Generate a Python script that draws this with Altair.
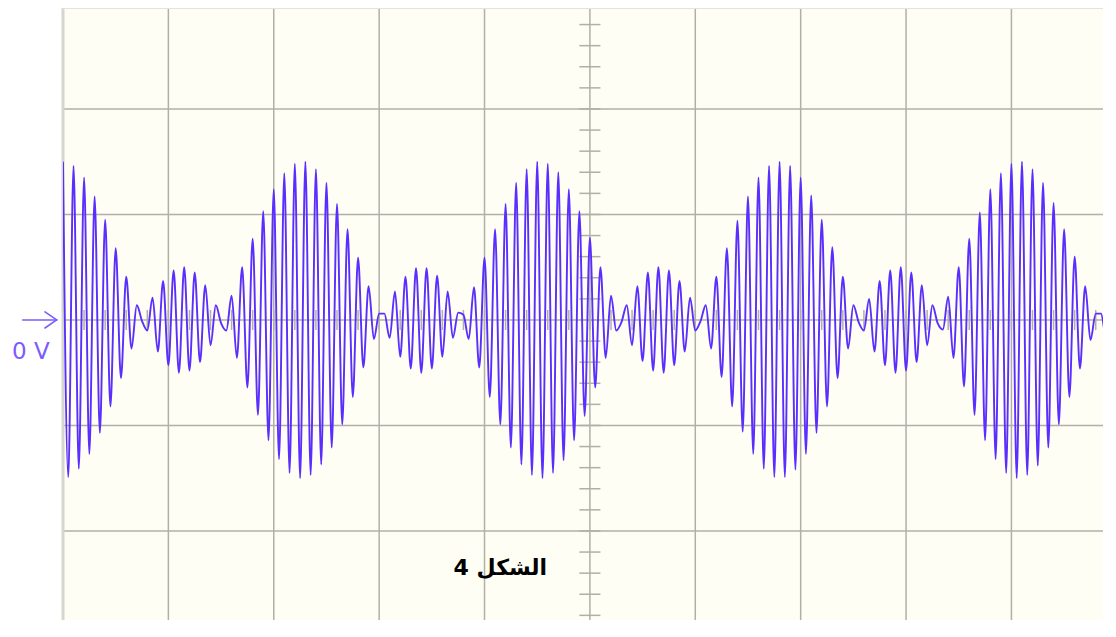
import altair as alt
import pandas as pd

# ---- horizontal sweep: spacing between successive carrier peaks (in screen divisions)
HALF_CYCLE_DIV = 0.05

# ---- signed peak voltage (in vertical divisions) of each carrier half-cycle, per screen division
peaks_div0 = [1.50, -1.49, 1.46, -1.41, 1.35, -1.27, 1.17, -1.07, 0.95, -0.82,
              0.68, -0.55, 0.41, -0.27, 0.14, -0.01, -0.10, 0.21, -0.30, 0.37]
peaks_div1 = [-0.43, 0.47, -0.50, 0.50, -0.48, 0.45, -0.40, 0.33, -0.24, 0.14,
              -0.03, -0.10, 0.23, -0.36, 0.50, -0.64, 0.77, -0.90, 1.03, -1.14]
peaks_div2 = [1.24, -1.32, 1.39, -1.45, 1.48, -1.50, 1.50, -1.47, 1.43, -1.37,
              1.30, -1.21, 1.10, -0.99, 0.86, -0.73, 0.59, -0.45, 0.32, -0.18]
peaks_div3 = [0.06, 0.06, -0.17, 0.27, -0.35, 0.41, -0.46, 0.49, -0.50, 0.49,
              -0.46, 0.42, -0.35, 0.27, -0.17, 0.07, 0.05, -0.18, 0.31, -0.45]
peaks_div4 = [0.59, -0.73, 0.86, -0.99, 1.10, -1.21, 1.30, -1.37, 1.43, -1.47,
              1.50, -1.50, 1.48, -1.45, 1.40, -1.33, 1.24, -1.14, 1.03, -0.91]
peaks_div5 = [0.78, -0.64, 0.50, -0.36, 0.23, -0.10, -0.02, 0.14, -0.24, 0.32,
              -0.39, 0.45, -0.48, 0.50, -0.50, 0.47, -0.43, 0.37, -0.30, 0.21]
peaks_div6 = [-0.10, -0.01, 0.14, -0.27, 0.41, -0.54, 0.68, -0.82, 0.94, -1.06,
              1.17, -1.27, 1.35, -1.41, 1.46, -1.49, 1.50, -1.49, 1.46, -1.42]
peaks_div7 = [1.35, -1.27, 1.18, -1.07, 0.95, -0.82, 0.69, -0.55, 0.41, -0.27,
              0.14, -0.02, -0.10, 0.20, -0.30, 0.37, -0.43, 0.47, -0.50, 0.50]
peaks_div8 = [-0.48, 0.45, -0.40, 0.33, -0.24, 0.14, -0.03, -0.09, 0.22, -0.36,
              0.50, -0.63, 0.77, -0.90, 1.02, -1.14, 1.24, -1.32, 1.39, -1.45]
peaks_div9 = [1.48, -1.50, 1.50, -1.47, 1.43, -1.38, 1.30, -1.21, 1.11, -0.99,
              0.86, -0.73, 0.60, -0.46, 0.32, -0.19, 0.06, 0.06, -0.17, 0.27]

# ---- graticule
grid_x = [1, 2, 3, 4, 5, 6, 7, 8, 9]
grid_y = [-2, -1, 0, 1, 2]
minor_step = 0.2
center_x = 5
center_y = 0

label_text = "الشكل 4"
zero_text = "0 V"

X_MAX = 9.869
Y_MIN = -2.844
Y_MAX = 2.957

TRACE = "#5a2eff"
MARKER = "#7a5cff"
GRID = "#b0b0a8"
BORDER = "#d6d6cf"

peaks = (peaks_div0 + peaks_div1 + peaks_div2 + peaks_div3 + peaks_div4 +
         peaks_div5 + peaks_div6 + peaks_div7 + peaks_div8 + peaks_div9)
wave_df = pd.DataFrame({"t": [round(i * HALF_CYCLE_DIV, 3) for i in range(len(peaks))],
                        "v": peaks})

xs = alt.Scale(domain=[0, X_MAX], nice=False, zero=False)
ys = alt.Scale(domain=[Y_MIN, Y_MAX], nice=False, zero=False)


def X(f):
    return alt.X(f, scale=xs, axis=None)


def Y(f):
    return alt.Y(f, scale=ys, axis=None)


grid_v = alt.Chart(pd.DataFrame({"x": grid_x})).mark_rule(
    color=GRID, strokeWidth=1.5).encode(x=X("x:Q"))
grid_h = alt.Chart(pd.DataFrame({"y": grid_y})).mark_rule(
    color=GRID, strokeWidth=1.5).encode(y=Y("y:Q"))

tick_y_vals = [round(-3 + k * minor_step, 2) for k in range(31)]
ticks_v = alt.Chart(pd.DataFrame({"y": tick_y_vals,
                                  "x1": [center_x - 0.1] * len(tick_y_vals),
                                  "x2": [center_x + 0.1] * len(tick_y_vals)})).mark_rule(
    color=GRID, strokeWidth=1.5).encode(x=X("x1:Q"), x2="x2:Q", y=Y("y:Q"))

tick_x_vals = [round(k * minor_step, 2) for k in range(50)]
ticks_h = alt.Chart(pd.DataFrame({"x": tick_x_vals,
                                  "y1": [center_y - 0.095] * len(tick_x_vals),
                                  "y2": [center_y + 0.095] * len(tick_x_vals)})).mark_rule(
    color=GRID, strokeWidth=1.5).encode(x=X("x:Q"), y=Y("y1:Q"), y2="y2:Q")

left_border = alt.Chart(pd.DataFrame({"x": [0]})).mark_rule(
    color=BORDER, strokeWidth=3).encode(x=X("x:Q"))
top_border = alt.Chart(pd.DataFrame({"y": [Y_MAX]})).mark_rule(
    color="#e4e4dc", strokeWidth=2).encode(y=Y("y:Q"))

wave = alt.Chart(wave_df).mark_line(
    color=TRACE, strokeWidth=1.9, interpolate="monotone", clip=True
).encode(x=X("t:Q"), y=Y("v:Q"))

label = alt.Chart(pd.DataFrame({"x": [4.15], "y": [-2.35], "s": [label_text]})).mark_text(
    font="DejaVu Sans", fontSize=22, fontWeight="bold", color="black",
    align="center", baseline="middle"
).encode(x=X("x:Q"), y=Y("y:Q"), text="s:N")

zero_label = alt.Chart(pd.DataFrame({"x": [-0.304], "y": [-0.303], "s": [zero_text]})).mark_text(
    font="DejaVu Sans", fontSize=23, color=MARKER, align="center", baseline="middle"
).encode(x=X("x:Q"), y=Y("y:Q"), text="s:N")

arrow = alt.Chart(pd.DataFrame({
    "x1": [-0.382, -0.171, -0.171],
    "x2": [-0.060, -0.060, -0.060],
    "y1": [0.0, 0.076, -0.076],
    "y2": [0.0, 0.0, 0.0],
})).mark_rule(color=MARKER, strokeWidth=1.6, strokeCap="round").encode(
    x=X("x1:Q"), x2="x2:Q", y=Y("y1:Q"), y2="y2:Q")

chart = alt.layer(
    grid_v, grid_h, ticks_v, ticks_h, left_border, top_border, wave, label, zero_label, arrow
).properties(
    width=1040, height=612,
    padding={"left": 55, "top": 0, "right": 0, "bottom": 0},
    autosize=alt.AutoSizeParams(type="none"),
    background="white",
).configure_view(fill="#fefef4", stroke=None)

chart.save("out.html", embed_options={"renderer": "svg", "actions": False})
